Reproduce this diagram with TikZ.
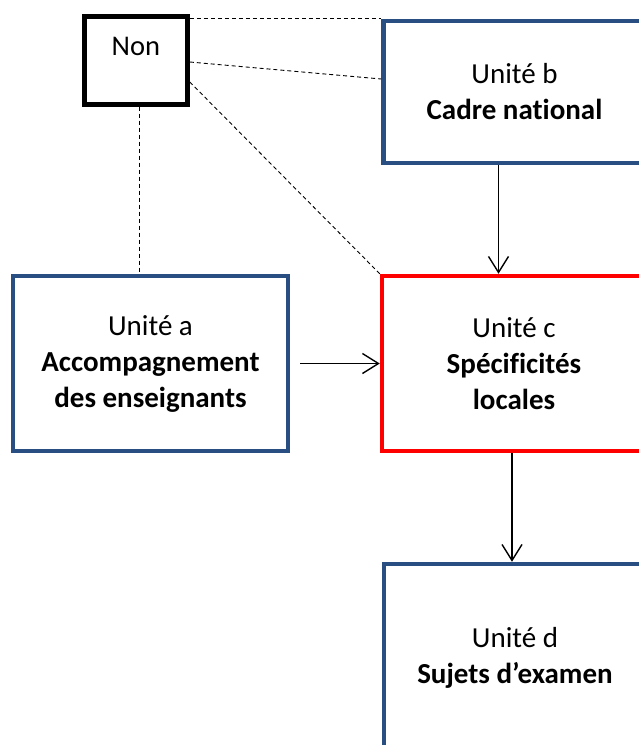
\documentclass[tikz,border=0pt]{standalone}
\usepackage{fontspec}
\setmainfont[Ligatures={NoCommon}]{Carlito}
\usetikzlibrary{arrows.meta,calc}
\definecolor{boxblue}{RGB}{40,78,130}
\definecolor{boxred}{RGB}{255,0,0}
\tikzset{
  unit/.style={draw=boxblue, line width=4.5pt, inner sep=0pt, align=center,
    font=\fontsize{29}{36}\selectfont},
  redunit/.style={unit, draw=boxred},
  nonbox/.style={draw=black, line width=5pt, inner sep=0pt,
    minimum width=103pt, minimum height=88pt, text height=18pt, text depth=28pt,
    font=\fontsize{28.5}{34}\selectfont},
  dashline/.style={draw=black, line width=0.9pt, dash pattern=on 4pt off 3pt},
  arr/.style={draw=black, line width=1.4pt, -{Straight Barb[length=16pt,width=20pt,line width=1.4pt]}}
}
\begin{document}
\begin{tikzpicture}[x=1pt,y=-1pt]
\useasboundingbox (0,0) rectangle (639,745);
\clip (0,0) rectangle (639,745);
\fill[white] (0,0) rectangle (639,745);

\node[nonbox] (non) at (135.8,60) {Non};
\node[unit, minimum width=262pt, minimum height=142pt] (b) at (514.5,92)
  {Unité b\\\textbf{Cadre national}};
\node[unit, minimum width=275pt, minimum height=175pt] (a) at (150.5,363.5)
  {Unité a\\\textbf{Accompagnement}\\\textbf{des enseignants}};
\node[redunit, minimum width=264pt, minimum height=175pt] (c) at (514,363.5)
  {Unité c\\\textbf{Spécificités}\\\textbf{locales}};
\node[unit, minimum width=262pt, minimum height=188pt] (d) at (515,658)
  {Unité d\\\textbf{Sujets d’examen}};

% dashed connectors from Non
\draw[dashline] (non.east |- b.north) -- (b.north west);
\draw[dashline] ([yshift=-2pt]non.east) -- ([yshift=13pt]b.west);
\draw[dashline] ([yshift=-22pt]non.east) -- (c.north west);
\draw[dashline] ([xshift=4pt]non.south) -- ([xshift=4pt]non.south |- a.north);

% arrows
\draw[arr] ([xshift=-16pt]b.south) -- ([xshift=-16pt]b.south |- c.north);
\draw[arr] ([xshift=10pt]a.east) -- (c.west);
\draw[arr] ([xshift=-2pt]c.south) -- ([xshift=-2pt]c.south |- d.north);
\end{tikzpicture}
\end{document}
